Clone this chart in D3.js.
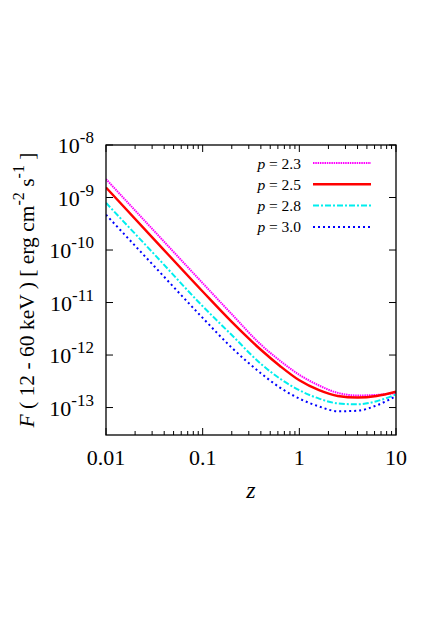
<!DOCTYPE html>
<html>
<head>
<meta charset="utf-8">
<script src="https://cdn.jsdelivr.net/npm/d3@7"></script>
<style>
  body { margin: 0; background: #fff; }
</style>
</head>
<body>
<svg id="chart"></svg>
<script>
/*
    LAYOUT
*/
var width = 436;
var height = 623;
var margin = {top: 145, right: 40, bottom: 188, left: 106};
var w = width - margin.left - margin.right;
var h = height - margin.top - margin.bottom;
var serif = "'Liberation Serif', 'DejaVu Serif', serif";

/*
    DATA
    z values shared by all curves, flux in erg cm^-2 s^-1
*/
var zValues = [0.01, 0.0316, 0.1, 0.2, 0.4, 0.63, 1, 1.6, 2.5, 4, 6.3, 10];

var flux23 = [2.24e-9, 2.29e-10, 2.34e-11, 6.0e-12, 1.58e-12, 7.8e-13, 4.2e-13, 2.63e-13, 1.9e-13, 1.7e-13, 1.74e-13, 1.9e-13];
var flux25 = [1.55e-9, 1.58e-10, 1.62e-11, 4.27e-12, 1.26e-12, 6.2e-13, 3.3e-13, 2.14e-13, 1.66e-13, 1.55e-13, 1.66e-13, 2.0e-13];
var flux28 = [7.9e-10, 8.3e-11, 8.5e-12, 2.4e-12, 6.8e-13, 3.55e-13, 2.14e-13, 1.48e-13, 1.2e-13, 1.15e-13, 1.32e-13, 1.78e-13];
var flux30 = [4.7e-10, 4.9e-11, 5.1e-12, 1.38e-12, 4.5e-13, 2.4e-13, 1.48e-13, 1.05e-13, 8.5e-14, 8.7e-14, 1.1e-13, 1.66e-13];

var seriesLabels = ["2.3", "2.5", "2.8", "3.0"];
var seriesFlux = [flux23, flux25, flux28, flux30];

var xTickValues = [0.01, 0.1, 1, 10];
var xTickLabels = ["0.01", "0.1", "1", "10"];
var yTickExponents = [-8, -9, -10, -11, -12, -13];

// line styles per series
var seriesColor = ["#ff00ff", "#ff0000", "#00eeee", "#0000ff"];
var seriesDash = ["1.5,0.8", null, "6,2,2,2", "2,3"];
var seriesWidth = [2, 2.4, 2, 2];

/*
    SCALES
*/
var x = d3.scaleLog().domain([0.01, 10]).range([0, w]);
var y = d3.scaleLog().domain([3e-14, 1e-8]).range([h, 0]);

var svg = d3.select("#chart")
    .attr("width", width)
    .attr("height", height)
  .append("g")
    .attr("transform", "translate(" + margin.left + "," + margin.top + ")");

/*
    CURVES
*/
var line = d3.line()
    .x(function(d) { return x(d[0]); })
    .y(function(d) { return y(d[1]); })
    .curve(d3.curveMonotoneX);

svg.append("clipPath").attr("id", "plotclip")
  .append("rect").attr("width", w).attr("height", h);

seriesFlux.forEach(function(flux, i) {
  var pts = zValues.map(function(z, j) { return [z, flux[j]]; });
  svg.append("path")
      .datum(pts)
      .attr("clip-path", "url(#plotclip)")
      .attr("d", line)
      .attr("fill", "none")
      .attr("stroke", seriesColor[i])
      .attr("stroke-width", seriesWidth[i])
      .attr("stroke-dasharray", seriesDash[i]);
});

/*
    AXES (ticks inward on all four sides)
*/
var minorX = [];
[0.01, 0.1, 1].forEach(function(dec) {
  for (var k = 2; k <= 9; k++) minorX.push(dec * k);
});

var tickG = svg.append("g");
var yMajor = yTickExponents.map(function(e) { return Math.pow(10, e); });

// bottom and top
[[h, -1], [0, 1]].forEach(function(s) {
  tickG.selectAll(null).data(xTickValues).enter().append("line")
      .attr("x1", function(d) { return x(d); }).attr("x2", function(d) { return x(d); })
      .attr("y1", s[0]).attr("y2", s[0] + s[1] * 7)
      .attr("stroke", "#000").attr("stroke-width", 1);
  tickG.selectAll(null).data(minorX).enter().append("line")
      .attr("x1", function(d) { return x(d); }).attr("x2", function(d) { return x(d); })
      .attr("y1", s[0]).attr("y2", s[0] + s[1] * 4)
      .attr("stroke", "#000").attr("stroke-width", 1);
});
// left and right
[[0, 1], [w, -1]].forEach(function(s) {
  tickG.selectAll(null).data(yMajor).enter().append("line")
      .attr("y1", function(d) { return y(d); }).attr("y2", function(d) { return y(d); })
      .attr("x1", s[0]).attr("x2", s[0] + s[1] * 7)
      .attr("stroke", "#000").attr("stroke-width", 1);
});

svg.append("rect")
    .attr("width", w).attr("height", h)
    .attr("fill", "none")
    .attr("stroke", "#000")
    .attr("stroke-width", 1.3);

// x tick labels
svg.selectAll(".xlab").data(xTickValues).enter().append("text")
    .attr("class", "xlab")
    .attr("x", function(d) { return x(d); })
    .attr("y", h + 30)
    .attr("text-anchor", "middle")
    .attr("font-family", serif)
    .attr("font-size", 22)
    .text(function(d, i) { return xTickLabels[i]; });

// y tick labels: 10^n
var ylab = svg.selectAll(".ylab").data(yTickExponents).enter().append("text")
    .attr("class", "ylab")
    .attr("x", -12)
    .attr("y", function(d) { return y(Math.pow(10, d)) + 8; })
    .attr("text-anchor", "end")
    .attr("font-family", serif)
    .attr("font-size", 22);
ylab.append("tspan").text("10");
ylab.append("tspan")
    .attr("dy", -10)
    .attr("font-size", 17)
    .text(function(d) { return "-" + Math.abs(d); });

// axis titles
svg.append("text")
    .attr("x", w / 2)
    .attr("y", h + 63)
    .attr("text-anchor", "middle")
    .attr("font-family", serif)
    .attr("font-size", 24)
    .attr("font-style", "italic")
    .text("z");

var yTitle = svg.append("text")
    .attr("transform", "translate(" + (-72) + "," + (h / 2) + ") rotate(-90)")
    .attr("text-anchor", "middle")
    .attr("font-family", serif)
    .attr("font-size", 21.5);
yTitle.append("tspan").attr("font-style", "italic").text("F");
yTitle.append("tspan").text(" ( 12 - 60 keV ) [ erg cm");
yTitle.append("tspan").attr("dy", -10).attr("font-size", 16).text("-2");
yTitle.append("tspan").attr("dy", 10).text(" s");
yTitle.append("tspan").attr("dy", -10).attr("font-size", 16).text("-1");
yTitle.append("tspan").attr("dy", 10).text(" ]");

/*
    LEGEND
*/
var legend = svg.append("g");
seriesLabels.forEach(function(lab, i) {
  var ly = 18 + i * 21.3;
  var t = legend.append("text")
      .attr("x", 195)
      .attr("y", ly + 5.5)
      .attr("text-anchor", "end")
      .attr("font-family", serif)
      .attr("font-size", 15.5);
  t.append("tspan").attr("font-style", "italic").text("p");
  t.append("tspan").text(" = " + lab);
  legend.append("line")
      .attr("x1", 207).attr("x2", 265)
      .attr("y1", ly).attr("y2", ly)
      .attr("stroke", seriesColor[i])
      .attr("stroke-width", seriesWidth[i])
      .attr("stroke-dasharray", seriesDash[i]);
});
</script>
</body>
</html>
